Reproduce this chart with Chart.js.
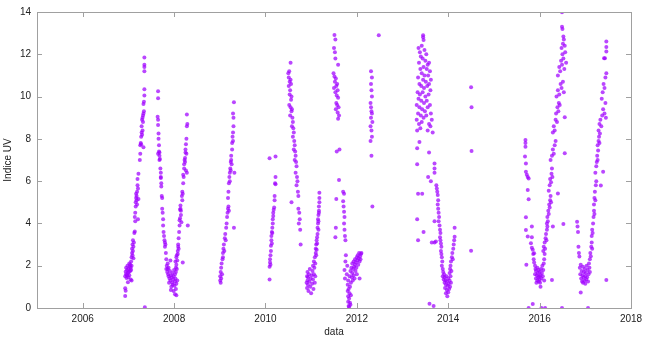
<!DOCTYPE html>
<html>
<head>
<meta charset="utf-8">
<script src="https://cdn.jsdelivr.net/npm/chart.js@4/dist/chart.umd.min.js"></script>
<style>
  html, body { margin: 0; padding: 0; background: #fff; }
  canvas { display: block; }
</style>
</head>
<body>
<canvas id="uv" width="650" height="340"></canvas>
<script>
// measurements: [decimal year, UV index], one array per campaign
const winter2007 = [[2006.93,0.93],[2006.93,0.57],[2006.94,0.82],[2006.93,1.50],[2006.94,1.72],[2006.95,1.60],[2006.95,1.90],[2006.96,1.42],[2006.97,1.80],[2006.97,1.55],[2006.98,2.00],[2006.99,1.65],[2006.99,1.22],[2007.00,1.45],[2007.00,1.85],[2007.01,1.70],[2007.02,2.10],[2007.02,1.55],[2007.03,1.95],[2007.04,1.75],[2007.04,2.05],[2007.05,1.35],[2007.05,1.90],[2007.06,2.20],[2007.06,1.80],[2007.07,2.00],[2007.07,1.30],[2007.07,2.40],[2007.08,2.60],[2007.08,2.80],[2007.09,2.50],[2007.09,3.00],[2007.10,2.70],[2007.10,3.20],[2007.11,2.90],[2007.11,2.35],[2007.12,3.10],[2007.13,3.55],[2007.14,3.62],[2007.14,4.30],[2007.15,4.50],[2007.15,4.10],[2007.16,4.80],[2007.16,5.00],[2007.17,5.20],[2007.17,5.40],[2007.18,5.10],[2007.18,5.30],[2007.19,4.90],[2007.19,5.50],[2007.20,5.80],[2007.20,6.10],[2007.21,5.65],[2007.22,6.35],[2007.21,4.20],[2007.22,5.15],[2007.25,7.00],[2007.26,7.30],[2007.26,7.70],[2007.27,7.80],[2007.28,7.75],[2007.28,8.10],[2007.29,8.30],[2007.29,8.60],[2007.30,8.90],[2007.30,8.20],[2007.31,9.00],[2007.31,8.40],[2007.32,9.10],[2007.32,8.80],[2007.33,9.20],[2007.33,7.60],[2007.33,9.65],[2007.34,9.75],[2007.34,9.30],[2007.35,10.05],[2007.35,10.35],[2007.35,11.20],[2007.35,11.40],[2007.35,11.50],[2007.35,11.85],[2007.36,0.03]];
const autumn2007 = [[2007.65,10.25],[2007.65,9.92],[2007.64,9.05],[2007.65,8.90],[2007.65,8.65],[2007.66,8.25],[2007.66,8.00],[2007.67,7.70],[2007.65,7.30],[2007.67,7.40],[2007.68,7.20],[2007.68,7.00],[2007.69,7.05],[2007.68,7.35],[2007.70,6.60],[2007.71,6.40],[2007.71,6.15],[2007.72,5.90],[2007.72,5.75],[2007.71,6.20],[2007.73,5.30],[2007.74,5.20],[2007.74,4.70],[2007.75,4.50],[2007.76,4.20],[2007.76,3.90],[2007.77,3.60],[2007.78,3.40],[2007.79,3.20],[2007.80,3.10],[2007.80,2.90],[2007.81,3.00],[2007.82,2.60],[2007.83,2.30],[2007.83,1.85],[2007.84,2.00],[2007.85,1.70],[2007.86,1.85],[2007.86,2.10],[2007.87,1.60],[2007.88,1.50],[2007.88,1.90],[2007.89,1.20],[2007.90,1.40],[2007.91,1.75],[2007.92,2.25],[2007.92,1.30],[2007.93,1.55],[2007.93,0.85],[2007.94,1.00],[2007.95,1.45],[2007.96,1.20],[2007.96,1.65],[2007.97,1.10],[2007.98,1.35],[2007.99,1.50],[2007.99,0.80],[2008.00,1.80],[2008.01,1.05],[2008.02,1.25],[2008.02,0.65],[2008.03,1.40],[2008.04,0.90],[2008.04,1.70],[2008.05,1.15],[2008.06,1.85],[2008.05,0.60],[2008.07,1.30]];
const spring2008 = [[2008.02,1.60],[2008.03,2.20],[2008.04,1.90],[2008.05,2.40],[2008.05,2.05],[2008.06,2.50],[2008.07,2.25],[2008.08,2.70],[2008.08,2.55],[2008.09,2.90],[2008.09,3.00],[2008.10,2.80],[2008.10,3.30],[2008.11,3.60],[2008.12,3.90],[2008.12,4.15],[2008.13,4.25],[2008.13,4.65],[2008.14,4.70],[2008.14,4.85],[2008.15,4.60],[2008.15,4.40],[2008.16,4.05],[2008.19,2.15],[2008.17,5.30],[2008.18,5.50],[2008.18,5.10],[2008.19,5.40],[2008.20,5.90],[2008.20,6.30],[2008.21,6.20],[2008.22,6.80],[2008.22,6.60],[2008.23,7.00],[2008.24,7.10],[2008.24,6.90],[2008.25,7.35],[2008.25,7.50],[2008.26,7.75],[2008.27,8.00],[2008.26,6.50],[2008.27,7.30],[2008.28,8.60],[2008.29,8.70],[2008.28,9.15],[2008.30,3.90],[2008.28,6.40]];
const spring2009 = [[2009.01,1.30],[2009.01,1.50],[2009.02,1.20],[2009.02,1.70],[2009.03,1.40],[2009.03,1.90],[2009.04,2.10],[2009.05,1.60],[2009.06,2.30],[2009.07,2.60],[2009.07,2.40],[2009.08,2.80],[2009.09,3.00],[2009.10,2.70],[2009.11,3.30],[2009.12,3.50],[2009.13,3.20],[2009.14,3.80],[2009.15,4.00],[2009.16,4.30],[2009.17,4.50],[2009.18,4.70],[2009.19,4.80],[2009.20,4.60],[2009.18,5.20],[2009.19,5.50],[2009.20,5.90],[2009.21,6.20],[2009.22,6.40],[2009.22,6.00],[2009.23,6.60],[2009.24,6.90],[2009.24,6.50],[2009.25,7.00],[2009.25,7.20],[2009.26,6.80],[2009.27,7.50],[2009.27,7.80],[2009.28,8.10],[2009.29,8.30],[2009.29,7.90],[2009.30,8.60],[2009.30,9.00],[2009.29,9.20],[2009.31,9.73],[2009.31,3.80],[2009.32,6.40]];
const spring2010 = [[2010.09,1.35],[2010.09,1.95],[2010.10,2.15],[2010.10,2.30],[2010.11,2.05],[2010.11,2.50],[2010.12,2.70],[2010.12,2.95],[2010.13,3.20],[2010.13,3.40],[2010.14,3.05],[2010.14,3.60],[2010.15,3.80],[2010.15,3.55],[2010.16,4.00],[2010.16,4.20],[2010.17,4.35],[2010.17,4.50],[2010.18,4.65],[2010.19,4.75],[2010.20,5.10],[2010.20,5.30],[2010.21,5.90],[2010.22,5.85],[2010.22,6.20],[2010.09,7.08],[2010.22,7.16]];
const summer2010 = [[2010.55,11.60],[2010.50,11.10],[2010.51,10.90],[2010.52,11.20],[2010.53,10.70],[2010.51,10.50],[2010.54,10.30],[2010.55,10.80],[2010.56,10.60],[2010.53,10.10],[2010.57,10.00],[2010.56,9.85],[2010.52,9.60],[2010.55,9.50],[2010.57,9.30],[2010.58,9.40],[2010.54,9.10],[2010.59,9.00],[2010.60,8.80],[2010.58,8.60],[2010.61,8.50],[2010.62,8.30],[2010.60,8.10],[2010.63,7.90],[2010.64,7.70],[2010.62,7.50],[2010.65,7.40],[2010.66,7.20],[2010.64,7.00],[2010.67,6.90],[2010.68,6.70],[2010.66,6.40],[2010.69,6.20],[2010.70,6.00],[2010.68,5.80],[2010.71,5.50],[2010.72,5.30],[2010.57,5.00],[2010.72,4.70],[2010.74,4.50],[2010.73,4.00],[2010.76,3.70],[2010.77,3.00],[2010.75,4.20]];
const winter2011 = [[2010.90,1.20],[2010.91,1.50],[2010.91,0.95],[2010.92,1.30],[2010.92,1.70],[2010.93,1.10],[2010.93,1.45],[2010.94,0.80],[2010.95,1.60],[2010.96,1.25],[2010.97,1.85],[2010.98,1.00],[2010.99,1.40],[2011.00,0.70],[2011.01,1.55],[2011.02,1.15],[2011.03,1.75],[2011.04,1.35],[2011.05,0.90],[2011.06,1.60],[2011.07,1.90],[2011.08,1.20],[2011.09,1.50],[2011.04,2.00],[2011.06,2.20],[2011.08,2.40],[2011.09,2.10],[2011.10,2.60],[2011.10,2.80],[2011.11,2.50],[2011.11,3.00],[2011.12,3.20],[2011.12,2.75],[2011.13,3.35],[2011.13,3.05],[2011.14,3.50],[2011.14,3.80],[2011.15,4.00],[2011.15,4.20],[2011.16,4.40],[2011.16,3.70],[2011.17,4.60],[2011.17,4.80],[2011.17,4.50],[2011.18,5.00],[2011.18,5.20],[2011.18,5.45],[2011.16,4.10]];
const summer2011 = [[2011.51,12.91],[2011.53,12.70],[2011.50,12.30],[2011.52,12.10],[2011.53,11.80],[2011.59,11.50],[2011.49,11.10],[2011.51,10.95],[2011.52,10.70],[2011.54,10.85],[2011.55,10.50],[2011.50,10.40],[2011.57,10.60],[2011.58,10.30],[2011.53,10.20],[2011.56,10.05],[2011.59,9.95],[2011.55,9.70],[2011.57,9.60],[2011.60,9.50],[2011.54,9.40],[2011.58,9.25],[2011.61,9.10],[2011.59,8.95],[2011.56,7.40],[2011.62,7.50],[2011.61,6.05],[2011.55,5.15],[2011.54,3.80],[2011.53,3.35]];
const autumn2011 = [[2011.70,5.50],[2011.72,5.40],[2011.70,5.05],[2011.71,4.80],[2011.72,4.55],[2011.73,4.30],[2011.72,4.00],[2011.73,3.70],[2011.74,3.40],[2011.75,3.20],[2011.76,2.50],[2011.75,2.20],[2011.73,1.80],[2011.74,1.40]];
const winter2012 = [[2011.80,1.10],[2011.80,0.80],[2011.81,0.55],[2011.81,0.30],[2011.82,0.10],[2011.82,0.90],[2011.83,0.45],[2011.83,0.05],[2011.84,0.70],[2011.85,0.25],[2011.85,1.00],[2011.86,0.15],[2011.87,0.60],[2011.78,1.60],[2011.79,2.00],[2011.81,1.30],[2011.84,1.50],[2011.86,1.75],[2011.87,1.20],[2011.88,1.90],[2011.89,1.45],[2011.90,2.10],[2011.90,1.65],[2011.91,1.30],[2011.92,1.85],[2011.93,2.20],[2011.93,1.55],[2011.94,1.95],[2011.95,1.40],[2011.96,2.05],[2011.96,2.30],[2011.97,1.75],[2011.98,2.15],[2011.99,1.90],[2012.00,2.40],[2012.00,1.60],[2012.01,2.25],[2012.02,2.50],[2012.03,2.05],[2012.04,2.35],[2012.05,2.60],[2012.06,2.20],[2012.06,1.40],[2012.07,2.45],[2012.08,2.30],[2012.09,2.55],[2012.10,2.60]];
const spring2012 = [[2012.31,11.20],[2012.33,10.90],[2012.31,10.60],[2012.32,10.30],[2012.33,10.00],[2012.30,9.70],[2012.31,9.50],[2012.32,9.30],[2012.33,9.20],[2012.31,9.00],[2012.34,8.80],[2012.30,8.60],[2012.32,8.40],[2012.33,8.10],[2012.30,7.90],[2012.32,7.20],[2012.34,4.80],[2012.48,12.90]];
const summer2013 = [[2013.45,12.90],[2013.45,12.80],[2013.46,12.68],[2013.35,12.30],[2013.38,12.10],[2013.42,12.40],[2013.48,12.20],[2013.52,12.00],[2013.40,11.90],[2013.44,11.80],[2013.36,11.60],[2013.50,11.70],[2013.55,11.50],[2013.58,11.60],[2013.46,11.40],[2013.39,11.30],[2013.53,11.30],[2013.60,11.20],[2013.42,11.10],[2013.48,11.00],[2013.56,11.00],[2013.34,10.90],[2013.62,10.80],[2013.45,10.80],[2013.51,10.70],[2013.37,10.60],[2013.58,10.60],[2013.41,10.50],[2013.54,10.50],[2013.47,10.40],[2013.61,10.30],[2013.33,10.20],[2013.38,10.10],[2013.44,10.20],[2013.50,10.00],[2013.57,10.10],[2013.35,9.90],[2013.41,9.80],[2013.47,9.70],[2013.53,9.80],[2013.60,9.60],[2013.31,9.60],[2013.37,9.50],[2013.43,9.40],[2013.49,9.30],[2013.55,9.50],[2013.62,9.20],[2013.34,9.20],[2013.40,9.10],[2013.46,9.00],[2013.52,9.10],[2013.31,8.90],[2013.36,8.70],[2013.42,8.80],[2013.58,8.70],[2013.64,8.90],[2013.32,8.40],[2013.39,8.50],[2013.55,8.40],[2013.66,8.30],[2013.61,8.60],[2013.37,7.85],[2013.32,7.55],[2013.58,7.35],[2013.32,6.80],[2013.34,5.40],[2013.43,5.40],[2013.32,4.20],[2013.46,3.60],[2013.34,3.20],[2013.59,0.20],[2013.68,0.10]];
const autumn2013 = [[2013.70,6.84],[2013.70,6.60],[2013.70,6.40],[2013.56,6.20],[2013.62,6.00],[2013.74,5.80],[2013.75,5.65],[2013.76,5.50],[2013.77,5.35],[2013.78,5.10],[2013.77,4.90],[2013.78,4.70],[2013.79,4.50],[2013.80,4.30],[2013.79,4.10],[2013.81,3.90],[2013.82,3.70],[2013.83,3.55],[2013.70,4.10],[2013.82,3.35],[2013.83,3.20],[2013.84,3.05],[2013.85,2.90],[2013.84,2.70],[2013.64,3.10],[2013.70,3.10],[2013.73,3.15],[2013.85,2.55],[2013.86,2.40],[2013.87,2.20],[2013.86,2.00],[2013.88,1.85],[2013.89,1.70],[2013.88,1.50],[2013.90,1.35],[2013.91,1.60],[2013.92,1.20],[2013.92,1.45],[2013.93,0.95],[2013.94,1.30],[2013.95,1.10],[2013.95,0.70],[2013.96,1.50],[2013.97,0.85],[2013.97,1.25],[2013.98,0.55],[2013.99,1.05],[2014.00,1.40],[2014.00,0.75],[2014.01,1.15],[2014.02,0.90],[2014.03,1.30],[2014.04,1.00],[2014.05,1.50],[2014.06,1.20]];
const spring2014 = [[2014.03,1.65],[2014.04,1.85],[2014.05,2.00],[2014.06,2.20],[2014.07,1.75],[2014.08,2.40],[2014.09,2.60],[2014.10,2.30],[2014.11,2.80],[2014.12,3.00],[2014.13,3.20],[2014.14,3.37],[2014.14,3.80],[2014.50,10.44],[2014.51,9.49],[2014.51,7.43],[2014.50,2.71]];
const autumn2015 = [[2015.69,7.95],[2015.69,7.80],[2015.69,7.63],[2015.68,7.16],[2015.70,6.84],[2015.70,6.45],[2015.72,6.30],[2015.74,6.20],[2015.76,6.13],[2015.74,5.58],[2015.76,5.14],[2015.70,4.29],[2015.70,3.69],[2015.83,3.85],[2015.74,3.38],[2015.83,3.35],[2015.81,3.06],[2015.83,2.85],[2015.85,2.75],[2015.88,2.59],[2015.71,2.04],[2015.76,0.00],[2015.85,0.19]];
const season2016 = [[2015.86,2.55],[2015.87,2.30],[2015.88,2.15],[2015.90,2.00],[2015.90,1.60],[2015.91,1.85],[2015.92,1.40],[2015.92,1.75],[2015.93,1.20],[2015.94,1.55],[2015.95,1.90],[2015.95,1.30],[2015.96,1.65],[2015.97,1.45],[2015.98,1.25],[2015.98,1.80],[2015.99,1.50],[2016.00,1.35],[2016.00,1.70],[2016.01,1.20],[2016.02,1.01],[2016.02,1.55],[2016.03,1.85],[2016.04,1.40],[2016.05,1.65],[2016.06,2.00],[2016.07,1.50],[2016.08,1.80],[2016.09,2.10],[2016.10,1.30],[2016.10,2.30],[2016.11,2.55],[2016.04,0.00],[2016.12,0.00],[2016.08,2.70],[2016.09,2.90],[2016.11,3.10],[2016.12,2.80],[2016.13,3.30],[2016.14,3.50],[2016.15,3.20],[2016.16,3.70],[2016.17,3.85],[2016.16,4.00],[2016.17,4.30],[2016.18,4.10],[2016.19,4.60],[2016.20,4.45],[2016.21,4.90],[2016.22,4.75],[2016.23,5.10],[2016.24,5.30],[2016.25,5.00],[2016.20,5.55],[2016.22,5.80],[2016.23,6.10],[2016.25,5.95],[2016.26,6.35],[2016.27,6.60],[2016.28,6.20],[2016.24,7.00],[2016.27,7.20],[2016.29,7.50],[2016.31,7.30],[2016.33,7.70],[2016.35,7.90],[2016.29,8.30],[2016.31,8.60],[2016.33,8.40],[2016.35,8.90],[2016.36,9.20],[2016.38,8.80],[2016.39,9.50],[2016.41,9.30],[2016.42,9.70],[2016.44,9.60],[2016.37,10.00],[2016.40,10.30],[2016.43,10.10],[2016.46,10.60],[2016.48,10.40],[2016.51,10.70],[2016.53,10.20],[2016.40,11.00],[2016.43,11.40],[2016.45,11.20],[2016.47,11.70],[2016.49,11.50],[2016.50,12.00],[2016.52,11.80],[2016.54,11.30],[2016.56,12.10],[2016.58,11.60],[2016.48,12.30],[2016.51,12.50],[2016.53,12.70],[2016.55,12.40],[2016.52,12.84],[2016.49,13.30],[2016.50,13.20],[2016.49,13.99],[2016.40,5.42],[2016.52,3.97],[2016.55,7.32],[2016.55,9.02],[2016.27,1.33],[2016.29,3.85],[2016.49,0.00]];
const season2017 = [[2016.82,4.08],[2016.83,3.85],[2016.84,3.60],[2016.85,2.90],[2016.86,2.60],[2016.87,2.43],[2016.90,0.73],[2017.06,0.00],[2016.88,1.90],[2016.89,1.60],[2016.90,2.05],[2016.91,1.40],[2016.92,1.75],[2016.93,1.25],[2016.94,1.55],[2016.95,1.95],[2016.95,1.20],[2016.96,1.45],[2016.97,1.70],[2016.98,1.30],[2016.99,1.85],[2017.00,1.50],[2017.00,1.15],[2017.01,1.65],[2017.02,1.35],[2017.03,2.00],[2017.04,1.45],[2017.05,1.80],[2017.06,1.25],[2017.07,1.60],[2017.08,2.10],[2017.09,1.90],[2017.10,1.70],[2017.10,2.30],[2017.11,2.60],[2017.12,2.45],[2017.13,2.90],[2017.14,3.10],[2017.15,2.80],[2017.14,3.40],[2017.15,3.70],[2017.16,3.55],[2017.17,4.00],[2017.18,4.30],[2017.19,4.60],[2017.20,4.45],[2017.19,4.90],[2017.20,5.20],[2017.21,5.50],[2017.22,5.10],[2017.23,5.80],[2017.24,6.00],[2017.22,6.40],[2017.24,6.70],[2017.25,6.90],[2017.26,7.20],[2017.27,7.00],[2017.28,7.45],[2017.27,7.70],[2017.29,7.90],[2017.30,8.10],[2017.31,7.80],[2017.32,8.25],[2017.29,8.40],[2017.31,8.70],[2017.33,8.90],[2017.35,8.60],[2017.37,9.10],[2017.39,9.40],[2017.42,9.20],[2017.44,9.70],[2017.45,9.00],[2017.36,9.90],[2017.38,10.20],[2017.40,10.60],[2017.42,10.40],[2017.44,10.90],[2017.46,11.10],[2017.41,11.81],[2017.43,11.81],[2017.46,12.13],[2017.46,12.35],[2017.46,12.60],[2017.46,1.33],[2017.39,6.45],[2017.34,5.79]];

const campaigns = [winter2007, autumn2007, spring2008, spring2009, spring2010, summer2010, winter2011, summer2011, autumn2011, winter2012, spring2012, summer2013, autumn2013, spring2014, autumn2015, season2016, season2017];
const xTicks = [2006, 2008, 2010, 2012, 2014, 2016, 2018];
const yTicks = [0, 2, 4, 6, 8, 10, 12, 14];

const points = [];
campaigns.forEach(c => c.forEach(p => points.push({ x: p[0], y: p[1] })));

// gnuplot-like frame with inward ticks on all four sides
const frame = {
  id: 'frame',
  afterDatasetsDraw(chart) {
    const { ctx, chartArea: a, scales } = chart;
    ctx.save();
    ctx.strokeStyle = '#a0a0a0';
    ctx.lineWidth = 1;
    ctx.strokeRect(Math.round(a.left) + 0.5, Math.round(a.top) + 0.5, Math.round(a.right - a.left), Math.round(a.bottom - a.top));
    ctx.beginPath();
    xTicks.forEach(v => {
      const x = Math.round(scales.x.getPixelForValue(v)) + 0.5;
      ctx.moveTo(x, a.bottom); ctx.lineTo(x, a.bottom - 5);
      ctx.moveTo(x, a.top); ctx.lineTo(x, a.top + 5);
    });
    yTicks.forEach(v => {
      const y = Math.round(scales.y.getPixelForValue(v)) + 0.5;
      ctx.moveTo(a.left, y); ctx.lineTo(a.left + 5, y);
      ctx.moveTo(a.right, y); ctx.lineTo(a.right - 5, y);
    });
    ctx.stroke();
    ctx.restore();
  }
};

const font = { family: 'Liberation Sans, Arial, sans-serif', size: 10 };

new Chart(document.getElementById('uv'), {
  type: 'scatter',
  data: {
    datasets: [{
      label: 'Indice UV',
      data: points,
      pointRadius: 2,
      pointBorderWidth: 0,
      backgroundColor: 'rgba(160, 0, 255, 0.72)'
    }]
  },
  options: {
    responsive: false,
    animation: false,
    devicePixelRatio: 1,
    layout: { padding: { top: 12, right: 19, left: 0, bottom: 0 } },
    plugins: { legend: { display: false }, tooltip: { enabled: false } },
    scales: {
      x: {
        type: 'linear',
        min: 2005,
        max: 2018,
        grid: { display: false, drawTicks: false },
        border: { display: false },
        afterBuildTicks: s => { s.ticks = xTicks.map(v => ({ value: v })); },
        afterFit: s => { s.height = 32; },
        ticks: { font, color: '#222', padding: 5, maxRotation: 0, callback: v => String(v) },
        title: { display: true, text: 'data', font, color: '#222', padding: { top: 0, bottom: 2 } }
      },
      y: {
        min: 0,
        max: 14,
        grid: { display: false, drawTicks: false },
        border: { display: false },
        afterBuildTicks: s => { s.ticks = yTicks.map(v => ({ value: v })); },
        afterFit: s => { s.width = 37; },
        ticks: { font, color: '#222', padding: 6, callback: v => String(v) },
        title: { display: true, text: 'Indice UV', font, color: '#222', padding: { top: 2, bottom: 0 } }
      }
    }
  },
  plugins: [frame]
});
</script>
</body>
</html>
